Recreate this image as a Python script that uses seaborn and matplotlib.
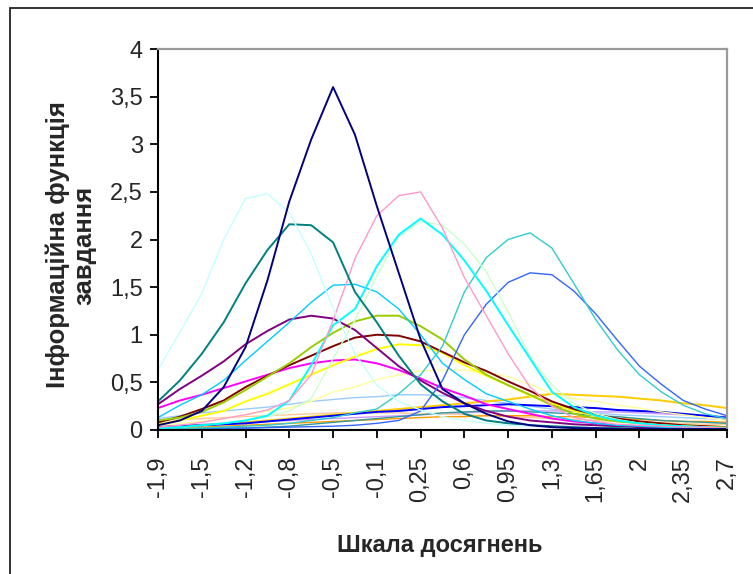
import matplotlib
matplotlib.use("Agg")
import matplotlib.pyplot as plt
from matplotlib.patches import Rectangle
import seaborn as sns
import pandas as pd

# category positions (half-tick steps along the ability scale)
x_pos = [0, 0.5, 1, 1.5, 2, 2.5, 3, 3.5, 4, 4.5, 5, 5.5, 6, 6.5, 7, 7.5, 8, 8.5,
         9, 9.5, 10, 10.5, 11, 11.5, 12, 12.5, 13]
tick_pos = list(range(14))
tick_labels = ["-1,9", "-1,5", "-1,2", "-0,8", "-0,5", "-0,1", "0,25", "0,6",
               "0,95", "1,3", "1,65", "2", "2,35", "2,7"]
y_ticks = [0, 0.5, 1, 1.5, 2, 2.5, 3, 3.5, 4]
y_tick_labels = ["0", "0,5", "1", "1,5", "2", "2,5", "3", "3,5", "4"]

# item information values
lavender = [0.04, 0.05, 0.06, 0.07, 0.08, 0.09, 0.1, 0.11, 0.12, 0.13, 0.14, 0.15, 0.16, 0.17,
            0.18, 0.19, 0.2, 0.2, 0.2, 0.2, 0.19, 0.19, 0.18, 0.17, 0.16, 0.15, 0.14]
peach = [0.1, 0.11, 0.12, 0.13, 0.14, 0.15, 0.16, 0.17, 0.18, 0.18, 0.18, 0.18, 0.17, 0.17,
         0.16, 0.15, 0.14, 0.13, 0.12, 0.11, 0.1, 0.09, 0.08, 0.08, 0.07, 0.06, 0.06]
orange = [0.02, 0.03, 0.03, 0.04, 0.05, 0.06, 0.07, 0.08, 0.09, 0.1, 0.11, 0.12, 0.13, 0.14,
          0.14, 0.15, 0.15, 0.15, 0.14, 0.14, 0.13, 0.12, 0.11, 0.1, 0.09, 0.09, 0.08]
teal_low = [0.01, 0.01, 0.015, 0.02, 0.02, 0.03, 0.04, 0.06, 0.08, 0.1, 0.12, 0.14, 0.16, 0.18,
            0.19, 0.2, 0.2, 0.19, 0.18, 0.17, 0.15, 0.14, 0.12, 0.1, 0.09, 0.08, 0.07]
light_blue = [0.12, 0.15, 0.18, 0.2, 0.22, 0.24, 0.27, 0.3, 0.32, 0.34, 0.35, 0.37, 0.37, 0.36,
              0.34, 0.31, 0.28, 0.25, 0.22, 0.2, 0.18, 0.16, 0.15, 0.14, 0.13, 0.12, 0.11]
gold = [0.03, 0.04, 0.05, 0.06, 0.08, 0.1, 0.12, 0.14, 0.16, 0.18, 0.2, 0.22, 0.24, 0.26,
        0.28, 0.3, 0.32, 0.35, 0.38, 0.37, 0.36, 0.35, 0.33, 0.31, 0.28, 0.26, 0.23]
blue = [0.03, 0.04, 0.05, 0.06, 0.07, 0.09, 0.11, 0.13, 0.15, 0.17, 0.19, 0.2, 0.22, 0.24,
        0.25, 0.26, 0.27, 0.26, 0.25, 0.24, 0.23, 0.21, 0.2, 0.19, 0.17, 0.15, 0.13]
light_yellow = [0.05, 0.07, 0.09, 0.12, 0.16, 0.2, 0.23, 0.3, 0.4, 0.45, 0.53, 0.58, 0.62, 0.63,
                0.63, 0.6, 0.56, 0.48, 0.38, 0.33, 0.3, 0.26, 0.23, 0.19, 0.16, 0.13, 0.1]
magenta = [0.23, 0.31, 0.37, 0.44, 0.51, 0.58, 0.65, 0.7, 0.73, 0.74, 0.7, 0.63, 0.54, 0.44,
           0.36, 0.27, 0.22, 0.17, 0.12, 0.09, 0.07, 0.05, 0.04, 0.035, 0.03, 0.025, 0.02]
yellow = [0.06, 0.1, 0.15, 0.2, 0.3, 0.38, 0.48, 0.58, 0.68, 0.77, 0.85, 0.9, 0.89, 0.81,
          0.68, 0.57, 0.47, 0.36, 0.28, 0.2, 0.15, 0.11, 0.08, 0.06, 0.05, 0.04, 0.03]
dark_red = [0.08, 0.14, 0.22, 0.31, 0.45, 0.57, 0.68, 0.78, 0.88, 0.97, 1.0, 0.99, 0.93, 0.82,
            0.71, 0.62, 0.51, 0.41, 0.3, 0.22, 0.16, 0.12, 0.09, 0.07, 0.05, 0.04, 0.03]
yellow_green = [0.1, 0.13, 0.19, 0.29, 0.42, 0.56, 0.7, 0.87, 1.02, 1.14, 1.2, 1.2, 1.09, 0.95,
                0.74, 0.58, 0.47, 0.37, 0.26, 0.17, 0.12, 0.09, 0.07, 0.05, 0.04, 0.03, 0.03]
purple = [0.27, 0.43, 0.57, 0.72, 0.9, 1.04, 1.16, 1.2, 1.17, 1.05, 0.86, 0.67, 0.52, 0.39,
          0.28, 0.2, 0.14, 0.1, 0.08, 0.06, 0.05, 0.04, 0.03, 0.03, 0.02, 0.02, 0.02]
sky_blue = [0.13, 0.26, 0.37, 0.52, 0.73, 0.93, 1.13, 1.34, 1.52, 1.53, 1.45, 1.27, 1.0, 0.7,
            0.53, 0.38, 0.3, 0.22, 0.15, 0.1, 0.07, 0.05, 0.04, 0.03, 0.02, 0.02, 0.01]
blue_mid = [0.01, 0.01, 0.015, 0.02, 0.02, 0.025, 0.03, 0.035, 0.04, 0.05, 0.07, 0.1, 0.2, 0.52,
            1.0, 1.32, 1.55, 1.65, 1.63, 1.46, 1.22, 0.94, 0.67, 0.48, 0.31, 0.22, 0.15]
turquoise = [0.01, 0.015, 0.02, 0.03, 0.04, 0.05, 0.07, 0.1, 0.13, 0.18, 0.22, 0.38, 0.58, 0.88,
             1.45, 1.81, 2.0, 2.07, 1.91, 1.54, 1.16, 0.84, 0.58, 0.4, 0.26, 0.17, 0.12]
pale_green = [0.02, 0.03, 0.05, 0.07, 0.1, 0.14, 0.2, 0.33, 0.75, 1.15, 1.62, 2.03, 2.19, 2.15,
              1.95, 1.66, 1.24, 0.77, 0.47, 0.28, 0.17, 0.11, 0.07, 0.05, 0.04, 0.03, 0.02]
cyan = [0.02, 0.03, 0.05, 0.07, 0.1, 0.15, 0.31, 0.68, 1.1, 1.27, 1.72, 2.05, 2.22, 2.05,
        1.78, 1.46, 1.1, 0.75, 0.4, 0.24, 0.15, 0.1, 0.07, 0.05, 0.04, 0.03, 0.02]
pink = [0.03, 0.05, 0.08, 0.12, 0.16, 0.21, 0.31, 0.58, 1.15, 1.8, 2.25, 2.46, 2.5, 2.12,
        1.6, 1.2, 0.8, 0.45, 0.25, 0.13, 0.09, 0.06, 0.05, 0.04, 0.03, 0.03, 0.02]
teal = [0.3, 0.52, 0.8, 1.13, 1.54, 1.89, 2.16, 2.15, 1.97, 1.45, 1.13, 0.78, 0.48, 0.3,
        0.17, 0.1, 0.07, 0.05, 0.04, 0.03, 0.02, 0.02, 0.01, 0.01, 0.01, 0.01, 0.01]
pale_cyan = [0.63, 1.03, 1.43, 2.0, 2.43, 2.48, 2.28, 1.85, 1.28, 0.8, 0.47, 0.3, 0.21, 0.14,
             0.1, 0.07, 0.05, 0.04, 0.03, 0.02, 0.02, 0.01, 0.01, 0.01, 0.01, 0.01, 0.01]
navy = [0.05, 0.1, 0.2, 0.45, 0.87, 1.57, 2.4, 3.05, 3.6, 3.1, 2.35, 1.65, 0.95, 0.43,
        0.28, 0.17, 0.09, 0.05, 0.03, 0.02, 0.02, 0.01, 0.01, 0.01, 0.01, 0.01, 0.01]

series = {
    "lavender": lavender, "peach": peach, "orange": orange, "teal_low": teal_low,
    "light_blue": light_blue, "gold": gold, "blue": blue, "light_yellow": light_yellow,
    "magenta": magenta, "yellow": yellow, "dark_red": dark_red,
    "yellow_green": yellow_green, "purple": purple, "sky_blue": sky_blue,
    "blue_mid": blue_mid, "turquoise": turquoise, "pale_green": pale_green,
    "cyan": cyan, "pink": pink, "teal": teal, "pale_cyan": pale_cyan, "navy": navy,
}
colors = {
    "lavender": "#CC99FF", "peach": "#FFCC99", "orange": "#FF9900", "teal_low": "#339999",
    "light_blue": "#99CCFF", "gold": "#FFCC00", "blue": "#0000FF", "light_yellow": "#FFFF99",
    "magenta": "#FF00FF", "yellow": "#FFFF00", "dark_red": "#800000",
    "yellow_green": "#99CC00", "purple": "#800080", "sky_blue": "#00CCFF",
    "blue_mid": "#3366FF", "turquoise": "#33CCCC", "pale_green": "#CCFFCC",
    "cyan": "#00FFFF", "pink": "#FF99CC", "teal": "#008080", "pale_cyan": "#C4FFFF",
    "navy": "#000080",
}
widths = {k: 1.0 for k in series}
for k in ["navy", "teal", "purple", "dark_red", "magenta", "blue", "yellow_green",
          "cyan", "yellow", "gold"]:
    widths[k] = 1.4

rows = []
for name, vals in series.items():
    for xp, v in zip(x_pos, vals):
        rows.append({"item": name, "pos": xp, "info": v})
df = pd.DataFrame(rows)

sns.set_style("white")
plt.rcParams["font.family"] = ["Liberation Sans", "DejaVu Sans"]

fig = plt.figure(figsize=(7.53, 5.74), dpi=100)
fig.patch.set_facecolor("white")
ax = fig.add_axes([158 / 753, 1 - 430 / 574, (727 - 158) / 753, (430 - 49) / 574])

for name in series:
    sns.lineplot(data=df[df["item"] == name], x="pos", y="info", color=colors[name],
                 linewidth=widths[name], ax=ax, legend=False, estimator=None, sort=False)

ax.set_xlim(0, 13)
ax.set_ylim(0, 4)
ax.set_xticks(tick_pos)
ax.set_xticklabels(tick_labels, rotation=90, fontsize=17)
ax.set_yticks(y_ticks)
ax.set_yticklabels(y_tick_labels, fontsize=17)
ax.set_xlabel("")
ax.set_ylabel("")
ax.tick_params(axis="x", direction="out", length=6, width=1.3, color="black", pad=13,
               bottom=True)
ax.tick_params(axis="y", direction="out", length=6, width=1.3, color="black", pad=5,
               left=True)
for s in ["left", "bottom"]:
    ax.spines[s].set_color("black")
    ax.spines[s].set_linewidth(1.5)
for s in ["top", "right"]:
    ax.spines[s].set_color("#9a9a9a")
    ax.spines[s].set_linewidth(1.6)
for lab in ax.get_xticklabels():
    lab.set_va("top")

fig.text(71 / 753, 1 - 245 / 574, "Інформаційна функція\nзавдання", rotation=90,
         ha="center", va="center", multialignment="center", fontsize=18.5,
         fontweight="bold", linespacing=1.1)
fig.text(440 / 753, 1 - 552 / 574, "Шкала досягнень", ha="center", va="baseline",
         fontsize=17, fontweight="bold")

fig.add_artist(Rectangle((10 / 753, -0.05), 1.2, 1.05 - 7.5 / 574, fill=False,
                         edgecolor="#222222", linewidth=1.3, transform=fig.transFigure))

fig.savefig("out.png", dpi=100, facecolor="white")
